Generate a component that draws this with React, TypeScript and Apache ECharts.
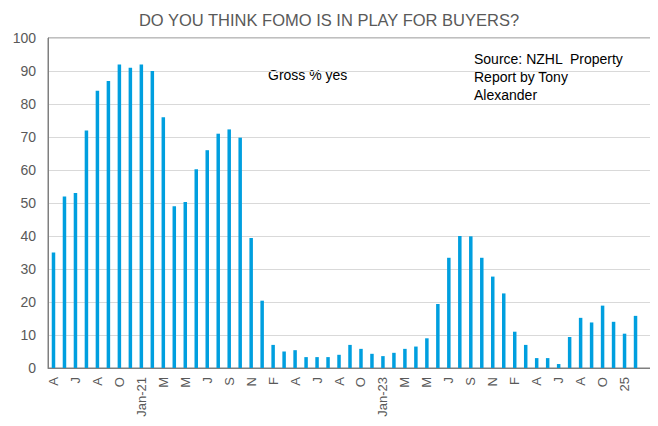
import React, { useEffect, useRef } from "react";
import * as echarts from "echarts";

// Survey months (every second one is labelled on the axis); the final slot is left empty
const categories = [
  "A", "M", "J", "J", "A", "S", "O", "N", "Jan-21", "F",
  "M", "A", "M", "J", "J", "A", "S", "O", "N", "D",
  "F", "M", "A", "M", "J", "J", "A", "S", "O", "N",
  "Jan-23", "F", "M", "A", "M", "J", "J", "A", "S", "O",
  "N", "D", "F", "M", "A", "M", "J", "J", "A", "S",
  "O", "N", "25", "F", "",
];

// Gross % of respondents saying yes
const grossYes: (number | null)[] = [
  35, 52, 53, 72, 84, 87, 92, 91, 92, 90,
  76, 49, 50.3, 60.2, 66, 71, 72.3, 69.8, 39.4, 20.4,
  7, 5, 5.4, 3.3, 3.3, 3.3, 4, 7, 5.8, 4.3,
  3.6, 4.6, 5.8, 6.5, 9, 19.4, 33.4, 40, 39.9, 33.4,
  27.7, 22.6, 11, 7, 3, 3, 1.2, 9.4, 15.2, 13.8,
  18.9, 14, 10.4, 15.8, null,
];

const yTicks = { min: 0, max: 100, interval: 10 };

const FONT = "'Liberation Sans', Arial, sans-serif";

export default function App() {
  const ref = useRef<HTMLDivElement>(null);

  useEffect(() => {
    if (!ref.current) return;
    const chart = echarts.init(ref.current, undefined, { renderer: "svg" });
    chart.setOption({
      animation: false,
      textStyle: { fontFamily: FONT },
      title: {
        text: "DO YOU THINK FOMO IS IN PLAY FOR BUYERS?",
        left: "center",
        top: 6,
        textStyle: { fontFamily: FONT, fontSize: 16.5, fontWeight: "normal", color: "#595959" },
      },
      grid: {
        left: 48,
        right: 6,
        top: 38,
        bottom: 58,
        show: true,
        borderColor: "#7f7f7f",
        borderWidth: 1,
      },
      xAxis: {
        type: "category",
        data: categories,
        boundaryGap: true,
        axisLine: { show: true, lineStyle: { color: "#7f7f7f" } },
        axisTick: { show: false },
        axisLabel: {
          interval: 1,
          rotate: 90,
          margin: 9,
          fontSize: 13,
          color: "#595959",
          fontFamily: FONT,
        },
      },
      yAxis: {
        type: "value",
        min: yTicks.min,
        max: yTicks.max,
        interval: yTicks.interval,
        axisLine: { show: true, lineStyle: { color: "#7f7f7f" } },
        axisTick: { show: false },
        axisLabel: { fontSize: 14, color: "#595959", margin: 12, fontFamily: FONT },
        splitLine: { lineStyle: { color: "#d9d9d9", width: 1 } },
      },
      series: [
        {
          type: "bar",
          data: grossYes,
          barWidth: 3.5,
          itemStyle: { color: "#009fdf" },
        },
      ],
      graphic: [
        {
          type: "text",
          left: 268,
          top: 68,
          style: { text: "Gross % yes", fontSize: 14, fill: "#000", fontFamily: FONT },
        },
        {
          type: "text",
          left: 474,
          top: 50,
          style: {
            text: "Source: NZHL  Property\nReport by Tony\nAlexander",
            fontSize: 14,
            lineHeight: 18,
            fill: "#000",
            fontFamily: FONT,
          },
        },
      ],
    });
    return () => chart.dispose();
  }, []);

  return <div ref={ref} style={{ width: 658, height: 426, margin: -8 }} />;
}
